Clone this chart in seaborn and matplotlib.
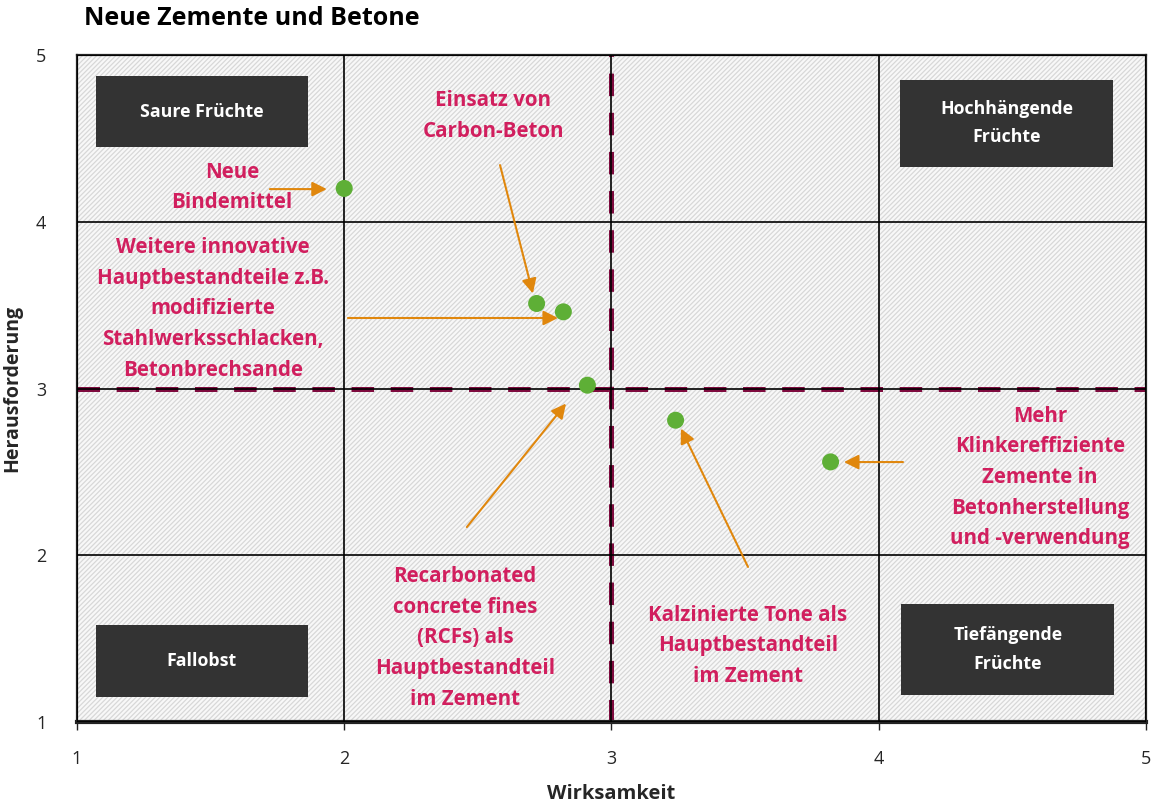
import matplotlib
matplotlib.use("Agg")
import matplotlib.pyplot as plt
import seaborn as sns
import pandas as pd
from matplotlib.patches import Rectangle

# ---- data ----
measures = ["Neue Bindemittel", "Einsatz von Carbon-Beton", "Weitere innovative Hauptbestandteile",
            "Recarbonated concrete fines", "Kalzinierte Tone", "Mehr Klinkereffiziente Zemente"]
wirksamkeit = [2.00, 2.72, 2.82, 2.91, 3.24, 3.82]
herausforderung = [4.20, 3.51, 3.46, 3.02, 2.81, 2.56]
x_ticks = [1, 2, 3, 4, 5]
y_ticks = [1, 2, 3, 4, 5]
quadrant_names = ["Saure Früchte", "Hochhängende\nFrüchte", "Fallobst", "Tiefängende\nFrüchte"]
threshold_x = 3
threshold_y = 3

df = pd.DataFrame({"Massnahme": measures, "Wirksamkeit": wirksamkeit,
                   "Herausforderung": herausforderung})

sns.set_theme(style="white")
plt.rcParams["font.family"] = ["Open Sans", "DejaVu Sans"]

PINK = "#D11F5E"
MAROON = "#7E0B3E"
ORANGE = "#E0870D"
GREEN = "#5EAF36"
BOX = "#333333"

fig = plt.figure(figsize=(11.54, 8.07), dpi=100)
ax = fig.add_axes([0.0667, 0.1053, 0.9263, 0.8265])
ax.set_xlim(1, 5)
ax.set_ylim(1, 5)

# hatched background
plt.rcParams["hatch.linewidth"] = 0.9
bg = Rectangle((0, 0), 1, 1, transform=ax.transAxes, facecolor="#F8F8F8",
               edgecolor="#D8D8D8", hatch="/" * 7, lw=0, zorder=0)
ax.add_patch(bg)

# grid
ax.set_xticks(x_ticks)
ax.set_yticks(y_ticks)
ax.grid(True, color="black", lw=1.2, zorder=1)
ax.set_axisbelow(False)
for s in ["top", "left", "right"]:
    ax.spines[s].set_color("#222222")
    ax.spines[s].set_linewidth(1.6)
ax.spines["bottom"].set_color("#222222")
ax.spines["bottom"].set_linewidth(3)

# threshold dashed lines
ax.axvline(threshold_x, color=MAROON, lw=3.6, dashes=(4.5, 3.33), zorder=2)
ax.axhline(threshold_y, color=MAROON, lw=3.6, dashes=(4.5, 3.33), zorder=2)

# points
sns.scatterplot(data=df, x="Wirksamkeit", y="Herausforderung", ax=ax, color=GREEN,
                s=150, edgecolor="none", zorder=5, legend=False)

# quadrant boxes
boxes = [((1.07, 4.448), 0.795, 0.426),
         ((4.08, 4.33), 0.796, 0.52),
         ((1.07, 1.15), 0.795, 0.43),
         ((4.085, 1.16), 0.796, 0.55)]
for (xy, w, h), name in zip(boxes, quadrant_names):
    ax.add_patch(Rectangle(xy, w, h, facecolor=BOX, edgecolor="none", zorder=3))
    ax.text(xy[0] + w / 2, xy[1] + h / 2, name, ha="center", va="center", color="white",
            fontsize=12.8, fontweight="bold", linespacing=1.72, zorder=4)

# labels with arrows
labels = [
    ("Neue\nBindemittel", (1.58, 4.205), (1.722, 4.196), (1.935, 4.196)),
    ("Einsatz von\nCarbon-Beton", (2.557, 4.634), (2.583, 4.340), (2.706, 3.57)),
    ("Weitere innovative\nHauptbestandteile z.B.\nmodifizierte\nStahlwerksschlacken,\nBetonbrechsande",
     (1.509, 3.477), (2.014, 3.423), (2.80, 3.423)),
    ("Recarbonated\nconcrete fines\n(RCFs) als\nHauptbestandteil\nim Zement",
     (2.452, 1.504), (2.459, 2.169), (2.83, 2.91)),
    ("Kalzinierte Tone als\nHauptbestandteil\nim Zement", (3.511, 1.456), (3.511, 1.930), (3.26, 2.76)),
    ("Mehr\nKlinkereffiziente\nZemente in\nBetonherstellung\nund -verwendung",
     (4.603, 2.466), (4.091, 2.559), (3.87, 2.559)),
]
for txt, tpos, astart, aend in labels:
    ax.text(tpos[0], tpos[1], txt, ha="center", va="center", color=PINK, fontsize=14.8,
            fontweight="bold", linespacing=1.6, zorder=4)
    ax.annotate("", xy=aend, xytext=astart,
                arrowprops=dict(arrowstyle="-|>", color=ORANGE, lw=1.5, mutation_scale=22,
                                shrinkA=0, shrinkB=0), zorder=4)

# axes text
ax.tick_params(axis="x", which="both", length=6, width=1, color="#222222", direction="out",
               bottom=True, labelsize=13, pad=14)
ax.tick_params(axis="y", which="both", length=0, labelsize=13, pad=22)
ax.set_xlabel("Wirksamkeit", fontsize=14.5, fontweight="bold", labelpad=12)
ax.set_ylabel("Herausforderung", fontsize=14, fontweight="bold")
ax.yaxis.set_label_coords(-0.051, 0.5)

fig.text(0.073, 0.977, "Neue Zemente und Betone", fontsize=18, fontweight="bold",
         ha="left", va="center", color="black")

fig.savefig("out.png", dpi=100)
